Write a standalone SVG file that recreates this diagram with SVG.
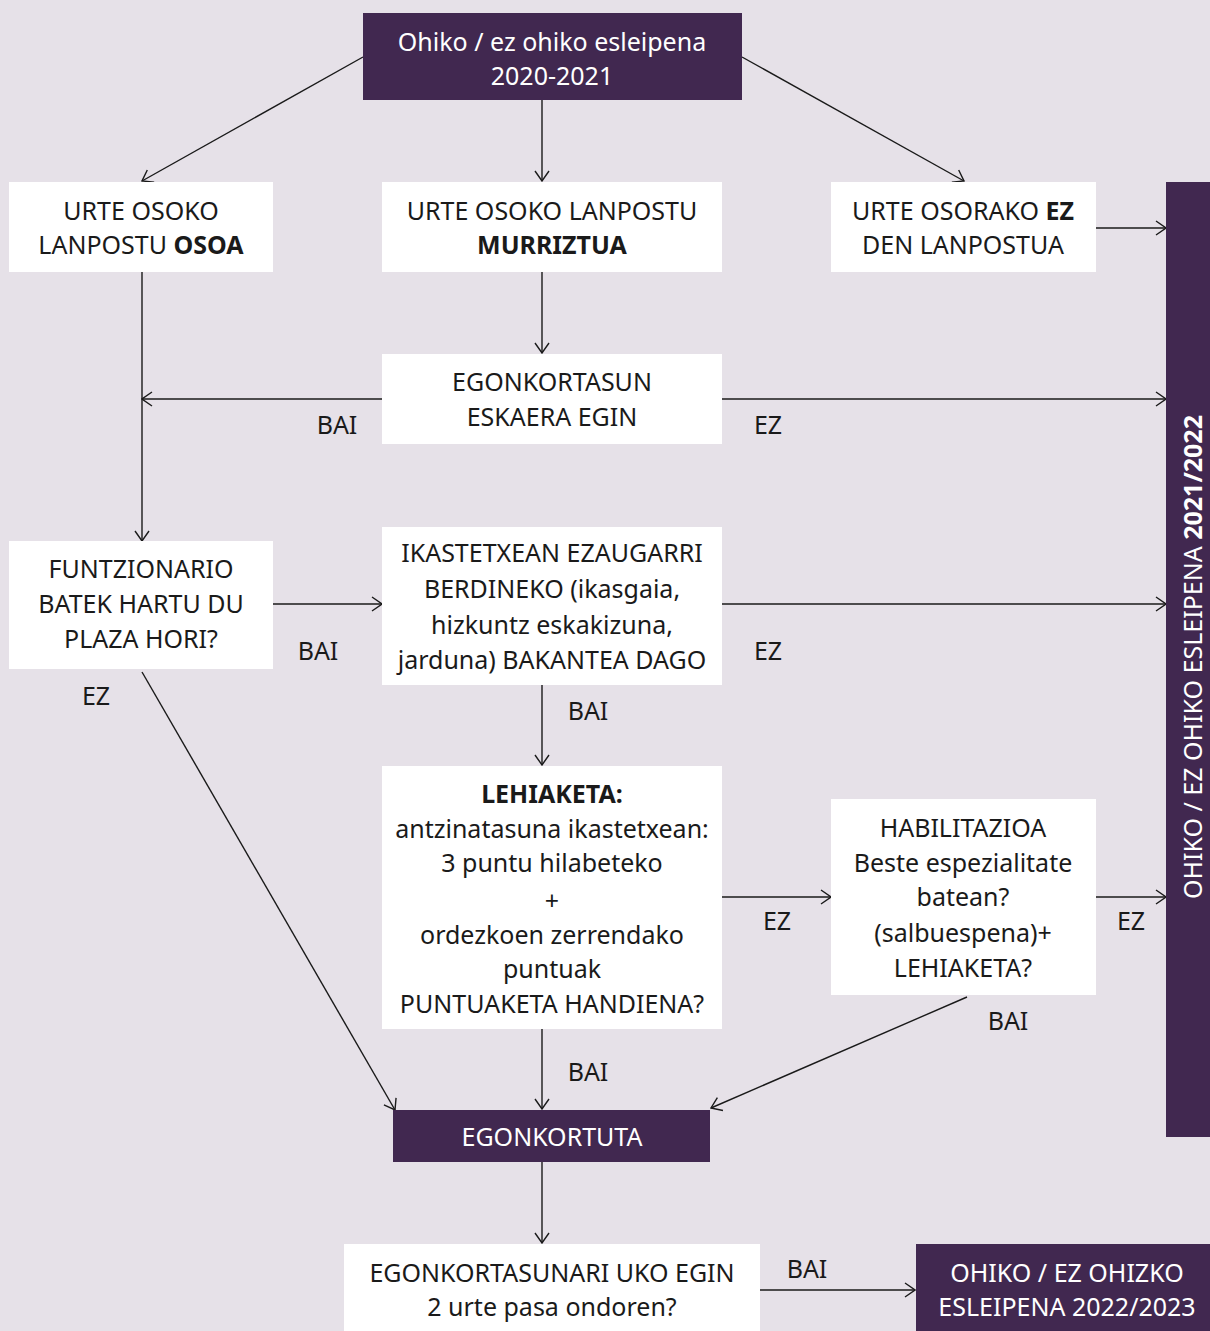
<svg xmlns="http://www.w3.org/2000/svg" width="1210" height="1331" viewBox="0 0 1210 1331">
<defs>
<marker id="ah" markerWidth="12" markerHeight="16" refX="11" refY="8" orient="auto" markerUnits="userSpaceOnUse">
<path d="M1,1 L11,8 L1,15" fill="none" stroke="#1a1a1a" stroke-width="1.4"/>
</marker>
</defs>
<style>
.bg{fill:#e6e1e8}
.w{fill:#ffffff}
.p{fill:#412850}
text{font-family:"Noto Sans","Open Sans",sans-serif;font-size:25px;text-anchor:middle;fill:#1a1a1a}
.wt{fill:#ffffff}
.b{font-weight:bold}
.c line{stroke:#1a1a1a;stroke-width:1.4;marker-end:url(#ah)}
</style>
<rect class="bg" x="0" y="0" width="1210" height="1331"/>
<g class="c" id="connectors">
<line x1="363" y1="57" x2="142" y2="181"/>
<line x1="542" y1="100" x2="542" y2="181"/>
<line x1="742" y1="57" x2="964" y2="181"/>
<line x1="1096" y1="228" x2="1166" y2="228"/>
<line x1="142" y1="272" x2="142" y2="541"/>
<line x1="542" y1="272" x2="542" y2="353"/>
<line x1="382" y1="399" x2="142" y2="399"/>
<line x1="722" y1="399" x2="1166" y2="399"/>
<line x1="273" y1="604" x2="382" y2="604"/>
<line x1="722" y1="604" x2="1166" y2="604"/>
<line x1="542" y1="685" x2="542" y2="765"/>
<line x1="142" y1="672" x2="395" y2="1110"/>
<line x1="722" y1="897" x2="831" y2="897"/>
<line x1="1096" y1="897" x2="1166" y2="897"/>
<line x1="542" y1="1029" x2="542" y2="1109"/>
<line x1="967" y1="997" x2="711" y2="1108"/>
<line x1="542" y1="1162" x2="542" y2="1243"/>
<line x1="760" y1="1290" x2="915" y2="1290"/>
</g>
<g id="labels">
<text x="337" y="434">BAI</text>
<text x="768" y="434">EZ</text>
<text x="318" y="660">BAI</text>
<text x="768" y="660">EZ</text>
<text x="96" y="705">EZ</text>
<text x="588" y="720">BAI</text>
<text x="777" y="930">EZ</text>
<text x="1131" y="930">EZ</text>
<text x="1008" y="1030">BAI</text>
<text x="588" y="1081">BAI</text>
<text x="807" y="1278">BAI</text>
</g>
<g id="top">
<rect class="p" x="363" y="13" width="379" height="87"/>
<text class="wt" x="552" y="51">Ohiko / ez ohiko esleipena</text>
<text class="wt" x="552" y="85">2020-2021</text>
</g>
<g id="osoa">
<rect class="w" x="9" y="182" width="264" height="90"/>
<text x="141" y="220">URTE OSOKO</text>
<text x="141" y="254">LANPOSTU <tspan class="b">OSOA</tspan></text>
</g>
<g id="murriztua">
<rect class="w" x="382" y="182" width="340" height="90"/>
<text x="552" y="220">URTE OSOKO LANPOSTU</text>
<text x="552" y="254" class="b">MURRIZTUA</text>
</g>
<g id="ezosoa">
<rect class="w" x="831" y="182" width="265" height="90"/>
<text x="963" y="220">URTE OSORAKO <tspan class="b">EZ</tspan></text>
<text x="963" y="254">DEN LANPOSTUA</text>
</g>
<g id="esleipena2122">
<rect class="p" x="1166" y="182" width="44" height="955"/>
<text class="wt" transform="translate(1202,657) rotate(-90)">OHIKO / EZ OHIKO ESLEIPENA <tspan class="b">2021/2022</tspan></text>
</g>
<g id="eskaera">
<rect class="w" x="382" y="354" width="340" height="90"/>
<text x="552" y="391">EGONKORTASUN</text>
<text x="552" y="426">ESKAERA EGIN</text>
</g>
<g id="funtzionario">
<rect class="w" x="9" y="541" width="264" height="128"/>
<text x="141" y="578">FUNTZIONARIO</text>
<text x="141" y="613">BATEK HARTU DU</text>
<text x="141" y="648">PLAZA HORI?</text>
</g>
<g id="bakantea">
<rect class="w" x="382" y="527" width="340" height="158"/>
<text x="552" y="562">IKASTETXEAN EZAUGARRI</text>
<text x="552" y="598">BERDINEKO (ikasgaia,</text>
<text x="552" y="634">hizkuntz eskakizuna,</text>
<text x="552" y="669">jarduna) BAKANTEA DAGO</text>
</g>
<g id="lehiaketa">
<rect class="w" x="382" y="766" width="340" height="263"/>
<text x="552" y="803" class="b">LEHIAKETA:</text>
<text x="552" y="838">antzinatasuna ikastetxean:</text>
<text x="552" y="872">3 puntu hilabeteko</text>
<text x="552" y="910">+</text>
<text x="552" y="944">ordezkoen zerrendako</text>
<text x="552" y="978">puntuak</text>
<text x="552" y="1013">PUNTUAKETA HANDIENA?</text>
</g>
<g id="habilitazioa">
<rect class="w" x="831" y="799" width="265" height="196"/>
<text x="963" y="837">HABILITAZIOA</text>
<text x="963" y="872">Beste espezialitate</text>
<text x="963" y="906">batean?</text>
<text x="963" y="942">(salbuespena)+</text>
<text x="963" y="977">LEHIAKETA?</text>
</g>
<g id="egonkortuta">
<rect class="p" x="393" y="1110" width="317" height="52"/>
<text class="wt" x="552" y="1146">EGONKORTUTA</text>
</g>
<g id="uko">
<rect class="w" x="344" y="1244" width="416" height="87"/>
<text x="552" y="1282">EGONKORTASUNARI UKO EGIN</text>
<text x="552" y="1316">2 urte pasa ondoren?</text>
</g>
<g id="esleipena2223">
<rect class="p" x="916" y="1244" width="294" height="87"/>
<text class="wt" x="1067" y="1282">OHIKO / EZ OHIZKO</text>
<text class="wt" x="1067" y="1316">ESLEIPENA 2022/2023</text>
</g>
</svg>
